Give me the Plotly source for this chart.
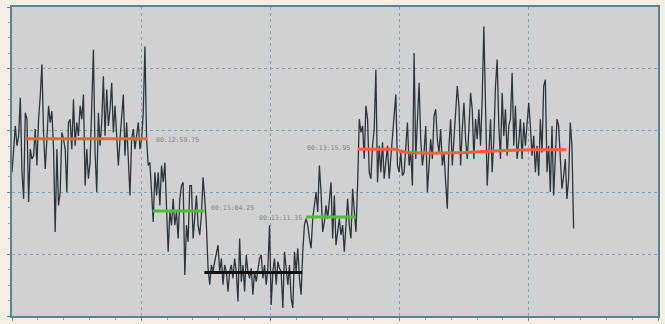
import numpy as np
import plotly.graph_objects as go

# Sampled signal, one value per sample (sample period below), grouped by phase
sample_period = 0.1286  # seconds

phase_1 = [46.5, 54.0, 61.5, 55.1, 58.3, 70.6, 46.5, 37.9, 65.8, 63.7, 36.9, 54.0, 50.8, 51.9,
           60.5, 48.7, 63.7, 71.2, 81.4, 59.4, 47.6, 57.2, 68.0, 62.6, 66.3, 54.0, 27.2, 54.0,
           35.8, 40.1, 59.4, 57.2, 54.0, 40.1, 62.6, 63.7, 54.0, 70.1, 55.1, 62.6, 58.3, 68.0,
           63.7, 71.7, 42.2, 54.0, 44.4, 49.7, 68.0, 86.2, 52.9, 40.1, 65.8, 55.1, 62.6, 77.6,
           58.3, 73.3, 61.5, 66.9, 75.5, 59.4, 68.0, 59.4, 48.7, 57.2, 63.7, 71.7, 51.9, 62.6,
           50.8, 39.0, 57.2, 60.5, 54.0, 59.4, 62.6, 54.0, 57.2, 65.8, 87.2, 57.2, 48.7]

phase_2 = [49.7, 41.2, 30.4, 46.5, 39.0, 46.5, 35.8, 48.7, 43.3, 49.7, 37.9, 20.8, 33.7, 29.4,
           37.9, 29.4, 33.7, 25.1, 37.9, 42.2, 43.3, 13.3, 29.4, 24.0, 42.2, 42.2, 25.1, 32.6,
           39.0, 29.4, 26.2, 32.6, 44.9, 37.9, 29.4]

phase_3 = [15.4, 10.1, 16.5, 14.4, 17.6, 20.8, 22.9, 14.4, 18.6, 10.1, 16.5, 14.4, 7.9, 14.4,
           16.5, 12.2, 18.6, 14.4, 4.7, 25.1, 11.1, 16.5, 7.9, 19.7, 14.4, 12.2, 15.4, 6.9,
           14.4, 11.1, 15.4, 18.6, 19.7, 12.2, 16.5, 10.1, 15.4, 29.4, 3.6, 14.4, 18.6, 10.1,
           17.6, 15.4, 14.4, 2.6, 20.8, 15.4, 10.1, 16.5, 5.8, 2.6, 20.8, 14.4, 21.9, 12.2,
           6.9, 20.8, 29.4]

phase_4 = [31.5, 29.4, 25.1, 21.9, 31.5, 35.8, 40.1, 33.7, 48.7, 40.1, 27.2, 30.4, 35.8, 31.5,
           36.9, 43.3, 25.1, 39.0, 22.9, 27.2, 31.5, 26.2, 29.4, 20.8, 31.5, 37.9, 29.4, 25.1,
           41.2, 32.6, 27.2, 42.2]

phase_5 = [63.7, 59.4, 61.5, 50.8, 68.0, 63.7, 46.5, 44.4, 55.1, 60.5, 79.7, 43.3, 55.1, 46.5,
           56.2, 44.4, 50.8, 55.1, 44.4, 51.9, 58.3, 63.7, 71.7, 48.7, 46.5, 52.9, 45.4, 46.5,
           55.1, 62.6, 48.7, 52.9, 42.2, 85.1, 50.8, 63.7, 75.5, 57.2, 48.7, 52.9, 61.5, 40.1,
           48.7, 57.2, 50.8, 64.7, 66.9, 57.2, 52.9, 60.5, 48.7, 52.9, 43.3, 34.7, 55.1, 63.7,
           48.7, 57.2, 63.7, 74.4, 68.0, 48.7, 60.5, 69.0, 57.2, 50.8, 60.5, 72.2, 66.9, 50.8,
           63.7, 57.2, 66.9, 55.1, 70.1, 93.7, 68.0, 42.2, 52.9, 63.7, 46.5, 57.2, 74.4, 83.0,
           61.5, 50.8, 72.2, 58.3, 66.9, 51.9, 61.5, 63.7, 78.7, 55.1, 68.0, 50.8, 56.2, 63.7,
           50.8, 62.6, 55.1, 61.5, 69.0, 61.5, 51.9, 58.3, 46.5, 55.1, 45.4, 63.7, 52.9, 74.4,
           76.5, 46.5, 55.1, 40.1, 61.5, 39.0, 50.8, 63.7, 61.5, 49.7, 41.2, 45.4, 50.8, 37.9,
           44.4, 62.6, 55.1, 28.3]

signal = phase_1 + phase_2 + phase_3 + phase_4 + phase_5
sample_times = np.arange(len(signal)) * sample_period

# Phase mean levels: (start s, end s, level, colour)
level_starts = [1.08, 10.88, 14.89, 22.76]
level_ends = [10.49, 14.89, 22.45, 26.62]
level_values = [57.4, 34.0, 14.1, 32.0]
level_colors = ["#f2603c", "#4cbf3a", "#111111", "#4cbf3a"]

# Trend of the last phase level
trend_times = [26.77, 29.6, 30.5, 32.5, 35.1, 37.7, 40.2, 42.9]
trend_values = [54.0, 54.0, 52.9, 52.7, 52.9, 53.5, 53.8, 53.8]

# Phase boundary timestamps
stamp_texts = ["00:12:59.75", "00:13:04.25", "00:13:11.35", "00:13:15.95"]
stamp_times = [11.0, 15.25, 22.6, 26.3]
stamp_values = [57.0, 35.0, 31.8, 54.3]
stamp_anchor = ["left", "left", "right", "right"]

fig = go.Figure()

fig.add_trace(go.Scatter(
    x=sample_times, y=signal, mode="lines",
    line=dict(color="#2b353c", width=1.3), hoverinfo="skip", showlegend=False))

for t0, t1, v, c in zip(level_starts, level_ends, level_values, level_colors):
    fig.add_trace(go.Scatter(
        x=[t0, t1], y=[v, v], mode="lines",
        line=dict(color=c, width=3), showlegend=False))

fig.add_trace(go.Scatter(
    x=trend_times, y=trend_values, mode="lines",
    line=dict(color="#f2603c", width=3), showlegend=False))

for txt, t, v, a in zip(stamp_texts, stamp_times, stamp_values, stamp_anchor):
    fig.add_annotation(
        x=t, y=v, text=txt, showarrow=False, xanchor=a, yanchor="middle",
        font=dict(family="DejaVu Sans Mono", size=6.5, color="#858585"))

axis_common = dict(
    showline=True, mirror=True, linecolor="#5d8294", linewidth=2,
    showgrid=True, gridcolor="#86a0b0", griddash="dot", gridwidth=1,
    zeroline=False, showticklabels=False,
    ticks="outside", ticklen=3, tickcolor="#5d8294",
    minor=dict(ticks="outside", ticklen=2, tickcolor="#8aa3b2", showgrid=False),
)

fig.update_xaxes(range=[0, 50], dtick=10, tick0=0, **axis_common)
fig.update_xaxes(minor_dtick=2)
fig.update_yaxes(range=[0, 100], dtick=20, tick0=0, **axis_common)
fig.update_yaxes(minor_dtick=5)

fig.update_layout(
    width=665, height=324,
    margin=dict(l=12, r=5, t=7, b=6),
    paper_bgcolor="#f4efe2",
    plot_bgcolor="#d1d1d1",
)

fig.write_html("out.html")
